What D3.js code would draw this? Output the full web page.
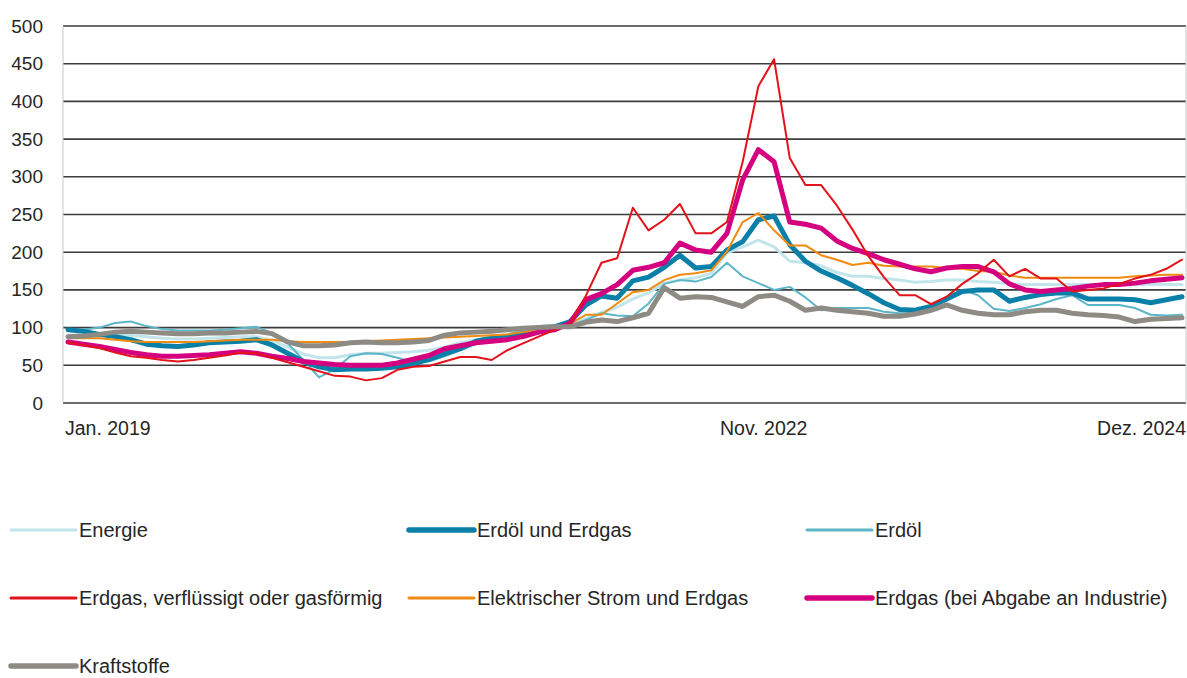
<!DOCTYPE html>
<html>
<head>
<meta charset="utf-8">
<script src="https://cdn.jsdelivr.net/npm/d3@7"></script>
<style>
	body { margin: 0; background: #fff; }
	text { font-family: "Liberation Sans", Arial, sans-serif; fill: #262626; }
</style>
</head>
<body>
<div id="chart"></div>
<script>
// Monthly categories Jan. 2019 .. Dez. 2024
var months = d3.timeMonth.range(new Date(2019, 0, 1), new Date(2025, 0, 1)).map(d3.timeFormat("%Y-%m"));

var seriesNames = ["Energie", "Erdöl und Erdgas", "Erdöl", "Erdgas, verflüssigt oder gasförmig",
	"Elektrischer Strom und Erdgas", "Erdgas (bei Abgabe an Industrie)", "Kraftstoffe"];

var energie = [
	90, 90, 90, 91, 90, 88, 86, 85, 85, 86, 87, 88,
	88, 83, 74, 65, 60, 60, 64, 66, 66, 67, 68, 70,
	74, 80, 84, 88, 91, 95, 99, 102, 104, 112, 120, 127,
	138, 146, 159, 163, 166, 172, 199, 207, 216, 207, 188, 186,
	182, 173, 168, 168, 165, 163, 160, 161, 163, 163, 161, 160,
	158, 157, 157, 157, 157, 157, 157, 157, 157, 157, 157, 157];

var erdoelErdgas = [
	97, 95, 91, 88, 84, 78, 76, 75, 77, 80, 81, 82,
	84, 77, 66, 55, 48, 44, 45, 45, 46, 48, 52, 58,
	65, 72, 82, 86, 88, 92, 96, 101, 108, 130, 142, 139,
	162, 167, 180, 196, 179, 181, 203, 214, 243, 248, 210, 188,
	175, 166, 156, 145, 133, 124, 123, 128, 138, 148, 150, 150,
	135, 140, 144, 146, 146, 138, 138, 138, 137, 133, 137, 141];

var erdoel = [
	98, 97, 100, 106, 108, 102, 98, 96, 96, 96, 97, 99,
	101, 93, 79, 57, 34, 45, 62, 66, 65, 60, 54, 55,
	62, 70, 78, 85, 90, 97, 102, 103, 103, 110, 119, 116,
	115, 132, 158, 163, 161, 167, 186, 168, 159, 150, 154, 140,
	123, 126, 126, 126, 121, 119, 119, 127, 141, 150, 143, 125,
	122, 126, 131, 138, 143, 130, 130, 130, 126, 117, 116, 117];

var erdgas = [
	80, 77, 73, 67, 62, 60, 57, 55, 57, 60, 63, 67,
	66, 60, 54, 48, 42, 36, 35, 30, 33, 44, 48, 49,
	55, 61, 61, 57, 70, 79, 88, 97, 105, 142, 186, 192,
	259, 229, 243, 264, 225, 225, 240, 320, 420, 456, 325, 289,
	289, 262, 230, 195, 167, 143, 143, 131, 141, 158, 172, 190,
	168, 178, 165, 165, 148, 150, 152, 158, 165, 170, 178, 190];

var stromErdgas = [
	86, 86, 86, 84, 82, 81, 81, 81, 81, 82, 83, 84,
	84, 84, 82, 81, 81, 81, 81, 82, 83, 84, 85, 86,
	87, 88, 89, 90, 91, 94, 97, 100, 105, 117, 117, 132,
	147, 150, 163, 170, 172, 176, 201, 240, 252, 229, 209, 209,
	196, 190, 183, 186, 182, 181, 181, 181, 179, 178, 175, 174,
	169, 166, 166, 166, 166, 166, 166, 166, 168, 169, 170, 170];

var erdgasIndustrie = [
	81, 78, 75, 71, 67, 64, 62, 62, 63, 64, 66, 68,
	66, 62, 59, 55, 53, 51, 50, 50, 50, 53, 58, 63,
	72, 76, 80, 82, 84, 88, 94, 97, 106, 137, 145, 157,
	176, 180, 186, 212, 203, 200, 225, 296, 336, 320, 240, 237,
	232, 215, 205, 198, 190, 184, 178, 174, 179, 181, 181, 174,
	158, 150, 148, 150, 152, 155, 157, 157, 159, 162, 164, 166];

var kraftstoffe = [
	88, 89, 91, 94, 95, 94, 93, 92, 92, 93, 93, 94,
	95, 92, 81, 76, 76, 77, 80, 81, 80, 80, 81, 83,
	90, 93, 94, 95, 97, 99, 100, 101, 101, 107, 110, 108,
	113, 119, 153, 139, 141, 140, 134, 128, 141, 143, 135, 123,
	126, 123, 121, 119, 115, 115, 118, 123, 130, 123, 119, 117,
	117, 121, 123, 123, 119, 117, 116, 114, 108, 111, 112, 113];

var yTicks = [0, 50, 100, 150, 200, 250, 300, 350, 400, 450, 500];
var xTickMonths = ["2019-01", "2022-11", "2024-12"];
var xTickLabels = ["Jan. 2019", "Nov. 2022", "Dez. 2024"];

///////////////////////////////////////////////////////////////////////////
//////////////////// Set up and initiate svg containers ///////////////////
///////////////////////////////////////////////////////////////////////////

var svgW = 1187,
	svgH = 678;
var margin = {
	left: 63,
	top: 26,
	right: 1,
	bottom: 275
};
var width = svgW - margin.left - margin.right,
	height = svgH - margin.top - margin.bottom;

var svg = d3.select("#chart")
	.append("svg")
	.attr("width", svgW)
	.attr("height", svgH);

var g = svg.append("g")
	.attr("transform", "translate(" + margin.left + "," + margin.top + ")");

var x = d3.scalePoint()
	.domain(months)
	.range([5, width - 4]);

var y = d3.scaleLinear()
	.domain([0, 500])
	.range([height, 0]);

// legend order (order = position in legend grid)
var series = [
	{ name: seriesNames[0], values: energie, color: "#c2e4eb", width: 3, z: 0 },
	{ name: seriesNames[1], values: erdoelErdgas, color: "#0a80a8", width: 5, z: 2 },
	{ name: seriesNames[2], values: erdoel, color: "#5cb6c8", width: 2, z: 1 },
	{ name: seriesNames[3], values: erdgas, color: "#e3121b", width: 2, z: 5 },
	{ name: seriesNames[4], values: stromErdgas, color: "#f08a10", width: 2, z: 3 },
	{ name: seriesNames[5], values: erdgasIndustrie, color: "#d4007f", width: 5, z: 4 },
	{ name: seriesNames[6], values: kraftstoffe, color: "#8e8b84", width: 5, z: 6 }
];

///////////////////////////////////////////////////////////////////////////
////////////////////////////// Grid and axes //////////////////////////////
///////////////////////////////////////////////////////////////////////////

// horizontal gridlines
g.append("g")
	.selectAll("line")
	.data(yTicks)
	.enter()
	.append("line")
	.attr("x1", 0)
	.attr("x2", width)
	.attr("y1", function(d) { return y(d); })
	.attr("y2", function(d) { return y(d); })
	.attr("stroke", "#3d3d3d")
	.attr("stroke-width", 1.6);

// light frame on left and right
g.selectAll(".frame")
	.data([0, width])
	.enter()
	.append("line")
	.attr("class", "frame")
	.attr("x1", function(d) { return d; })
	.attr("x2", function(d) { return d; })
	.attr("y1", y(500))
	.attr("y2", y(0))
	.attr("stroke", "#c8c8c8")
	.attr("stroke-width", 1);

var yAxis = d3.axisLeft(y)
	.tickValues(yTicks)
	.tickSize(0)
	.tickPadding(20);

g.append("g")
	.call(yAxis)
	.call(function(s) { s.select(".domain").remove(); })
	.selectAll("text")
	.style("font-size", "19px")
	.style("font-family", "Liberation Sans, Arial, sans-serif")
	.attr("fill", "#262626");

// x labels: first left aligned, last right aligned
g.append("g")
	.selectAll("text")
	.data(xTickMonths)
	.enter()
	.append("text")
	.attr("x", function(d) { return x(d); })
	.attr("dx", function(d, i) {
		return i === 0 ? -3 : (i === xTickMonths.length - 1 ? 4 : -26);
	})
	.attr("y", height + 25)
	.attr("dy", "0.35em")
	.attr("text-anchor", function(d, i) {
		return i === 0 ? "start" : (i === xTickMonths.length - 1 ? "end" : "middle");
	})
	.style("font-size", "19.5px")
	.text(function(d, i) { return xTickLabels[i]; });

///////////////////////////////////////////////////////////////////////////
////////////////////////////// Draw the lines /////////////////////////////
///////////////////////////////////////////////////////////////////////////

var line = d3.line()
	.x(function(d, i) { return x(months[i]); })
	.y(function(d) { return y(d); });

g.append("g")
	.selectAll("path")
	.data(series.slice().sort(function(a, b) { return a.z - b.z; }))
	.enter()
	.append("path")
	.attr("d", function(d) { return line(d.values); })
	.attr("fill", "none")
	.attr("stroke", function(d) { return d.color; })
	.attr("stroke-width", function(d) { return d.width; })
	.attr("stroke-linejoin", "round")
	.attr("stroke-linecap", "round");

///////////////////////////////////////////////////////////////////////////
///////////////////////////////// Legend //////////////////////////////////
///////////////////////////////////////////////////////////////////////////

var legendCols = [11, 409, 807],
	legendRows = [530, 598, 666],
	swatchW = 65;

var legend = svg.append("g")
	.selectAll("g")
	.data(series)
	.enter()
	.append("g")
	.attr("transform", function(d, i) {
		return "translate(" + legendCols[i % 3] + "," + legendRows[Math.floor(i / 3)] + ")";
	});

legend.append("line")
	.attr("x1", 0)
	.attr("x2", swatchW)
	.attr("y1", 0)
	.attr("y2", 0)
	.attr("stroke", function(d) { return d.color; })
	.attr("stroke-width", function(d) { return d.width > 3 ? 5.5 : 3; })
	.attr("stroke-linecap", "round");

legend.append("text")
	.attr("x", swatchW + 3)
	.attr("y", 0)
	.attr("dy", "0.35em")
	.style("font-size", "20px")
	.text(function(d) { return d.name; });
</script>
</body>
</html>
